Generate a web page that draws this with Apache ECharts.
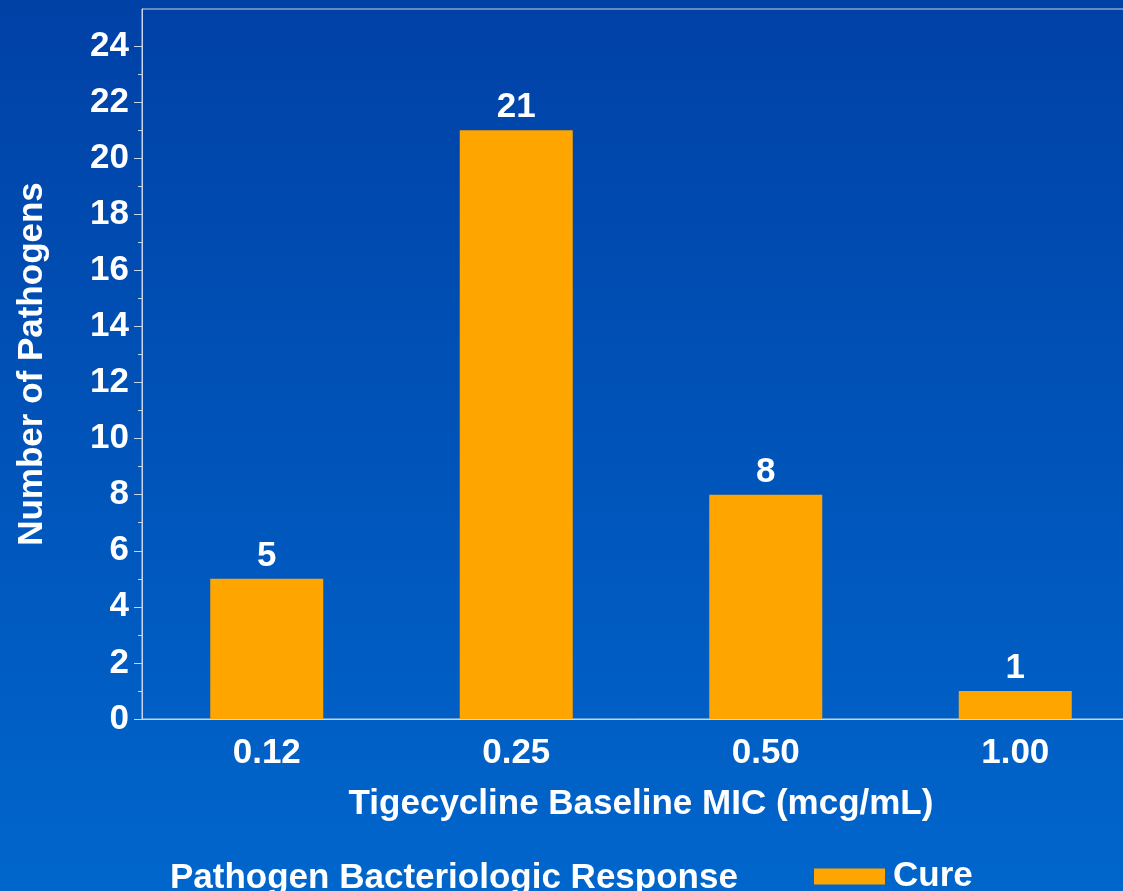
<!DOCTYPE html>
<html><head><meta charset="utf-8">
<script src="https://cdn.jsdelivr.net/npm/echarts@6/dist/echarts.min.js"></script>
<style>html,body{margin:0;padding:0;background:#0055b8}#c{width:1123px;height:891px}</style>
</head><body><div id="c"></div>
<script>
const categories = ['0.12', '0.25', '0.50', '1.00'];
const cureValues = [5, 21, 8, 1];
const majorTicks = [0, 2, 4, 6, 8, 10, 12, 14, 16, 18, 20, 22, 24];
const minorTicks = [1, 3, 5, 7, 9, 11, 13, 15, 17, 19, 21, 23];
const seriesName = 'Cure';
const xTitle = 'Tigecycline Baseline MIC (mcg/mL)';
const yTitle = 'Number of Pathogens';
const legendTitle = 'Pathogen Bacteriologic Response';

const font = 'Liberation Sans, Arial, sans-serif';
const lineCol = '#c8d4ea';
const fs = 35;
const chart = echarts.init(document.getElementById('c'), null, {renderer: 'canvas'});
chart.setOption({
  animation: false,
  backgroundColor: {type: 'linear', x: 0, y: 0, x2: 0, y2: 1,
    colorStops: [{offset: 0, color: '#0041a6'}, {offset: 1, color: '#0066cc'}]},
  title: {text: legendTitle, left: 170, top: 861, padding: 0,
    textStyle: {color: '#fff', fontFamily: font, fontWeight: 'bold', fontSize: fs}},
  legend: {left: 814, top: 859, padding: 0, itemWidth: 71, itemHeight: 16, itemGap: 10,
    icon: 'rect', data: [seriesName],
    textStyle: {color: '#fff', fontFamily: font, fontWeight: 'bold', fontSize: fs, padding: [0, 0, 0, 3]}},
  grid: {left: 142, top: 9, right: -17, bottom: 172, show: true, outerBoundsMode: 'none',
    containLabel: false,
    borderColor: lineCol, borderWidth: 1, backgroundColor: 'transparent'},
  xAxis: {type: 'category', data: categories,
    name: xTitle, nameLocation: 'middle', nameGap: 68,
    nameTextStyle: {color: '#fff', fontFamily: font, fontWeight: 'bold', fontSize: fs},
    axisLine: {lineStyle: {color: lineCol, width: 1}},
    axisTick: {show: false},
    axisLabel: {color: '#fff', fontFamily: font, fontWeight: 'bold', fontSize: fs, margin: 17}},
  yAxis: [{type: 'value', min: 0, max: 25.32,
    name: yTitle, nameLocation: 'middle', nameGap: 92, nameRotate: 90,
    nameTextStyle: {color: '#fff', fontFamily: font, fontWeight: 'bold', fontSize: fs},
    splitLine: {show: false},
    axisLine: {show: true, lineStyle: {color: lineCol, width: 1}},
    axisTick: {show: true, length: 8, customValues: majorTicks, lineStyle: {color: lineCol}},
    axisLabel: {color: '#fff', fontFamily: font, fontWeight: 'bold', fontSize: fs, margin: 13,
      customValues: majorTicks}},
   {type: 'value', min: 0, max: 25.32, position: 'left',
    splitLine: {show: false},
    axisLine: {show: false},
    axisTick: {show: true, length: 4, customValues: minorTicks, lineStyle: {color: lineCol}},
    axisLabel: {show: false}}],
  series: [{name: seriesName, type: 'bar', data: cureValues, barWidth: 113,
    itemStyle: {color: '#ffa500'},
    label: {show: true, position: 'top', distance: 5, color: '#fff',
      fontFamily: font, fontWeight: 'bold', fontSize: fs}}]
});
</script></body></html>
